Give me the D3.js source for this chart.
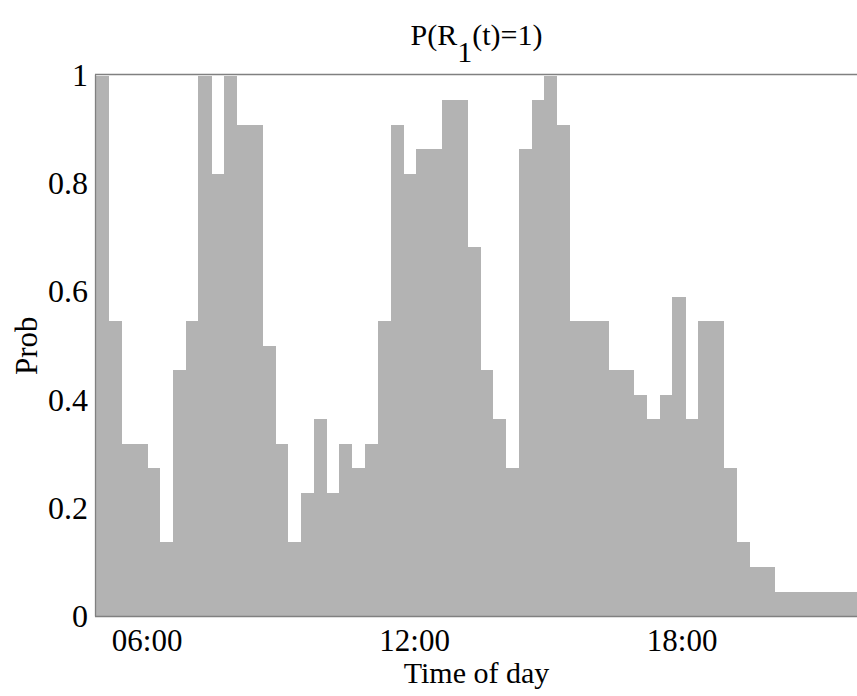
<!DOCTYPE html>
<html>
<head>
<meta charset="utf-8">
<script src="https://cdn.jsdelivr.net/npm/d3@7"></script>
<style>
  html, body { margin: 0; padding: 0; background: #fff; }
  svg { display: block; }
  text { font-family: "Liberation Serif", "Times New Roman", serif; fill: #000; }
</style>
</head>
<body>
<svg id="chart" width="857" height="696"></svg>
<script>
// ---- data ----
const values = [
  1.000, 0.545, 0.318, 0.318, 0.273, 0.136, 0.455, 0.545, 1.000, 0.818,
  1.000, 0.909, 0.909, 0.500, 0.318, 0.136, 0.227, 0.364, 0.227, 0.318,
  0.273, 0.318, 0.545, 0.909, 0.818, 0.864, 0.864, 0.955, 0.955, 0.682,
  0.455, 0.364, 0.273, 0.864, 0.955, 1.000, 0.909, 0.545, 0.545, 0.545,
  0.455, 0.455, 0.409, 0.364, 0.409, 0.591, 0.364, 0.545, 0.545, 0.273,
  0.136, 0.091, 0.091, 0.045, 0.045, 0.045, 0.045, 0.045, 0.045, 0.045
];
const startHour = 4.863;      // time at left edge of first bin
const binHours = 0.28735;     // width of each bin, hours
const endHour = 21.934;       // right edge of visible axis
const xTickHours = [6, 12, 18];
const xTickLabels = ["06:00", "12:00", "18:00"];
const yTicks = [0, 0.2, 0.4, 0.6, 0.8, 1];
const yTickLabels = ["0", "0.2", "0.4", "0.6", "0.8", "1"];
const titleMain = "P(R";
const titleSub = "1";
const titleRest = "(t)=1)";
const xLabel = "Time of day";
const yLabel = "Prob";

// ---- layout ----
const mLeft = 96, mRight = 857, mTop = 75.5, mBottom = 616;
const svg = d3.select("#chart");

const x = d3.scaleLinear().domain([startHour, endHour]).range([mLeft, mRight]);
const y = d3.scaleLinear().domain([0, 1]).range([mBottom, mTop]);

svg.append("defs").append("clipPath").attr("id", "plotclip")
  .append("rect").attr("x", mLeft).attr("y", 0).attr("width", mRight - mLeft).attr("height", mBottom);

// bars
svg.append("g").attr("clip-path", "url(#plotclip)")
  .selectAll("rect").data(values).join("rect")
  .attr("x", (d, i) => x(startHour + i * binHours))
  .attr("width", (d, i) => x(startHour + (i + 1) * binHours) - x(startHour + i * binHours) + 0.3)
  .attr("y", d => y(d))
  .attr("height", d => y(0) - y(d))
  .attr("fill", "#b3b3b3")
  .attr("shape-rendering", "crispEdges");

// frame lines (left, bottom, top)
const lineColor = "#808080";
svg.append("line").attr("x1", mLeft - 0.5).attr("x2", mLeft - 0.5).attr("y1", mTop - 1).attr("y2", mBottom + 0.5)
  .attr("stroke", lineColor).attr("stroke-width", 1.3);
svg.append("line").attr("x1", mLeft - 1).attr("x2", mRight).attr("y1", mBottom + 0.5).attr("y2", mBottom + 0.5)
  .attr("stroke", lineColor).attr("stroke-width", 1.3);
svg.append("line").attr("x1", mLeft - 1).attr("x2", mRight).attr("y1", mTop - 1).attr("y2", mTop - 1)
  .attr("stroke", lineColor).attr("stroke-width", 1.3);

// y axis
const yAxis = d3.axisLeft(y).tickValues(yTicks).tickSize(0).tickPadding(8)
  .tickFormat((d, i) => yTickLabels[i]);
const gy = svg.append("g").attr("transform", `translate(${mLeft},0)`).call(yAxis);
gy.select(".domain").remove();
gy.selectAll("text").style("font-family", '"Liberation Serif", serif').style("font-size", "32px").attr("fill", "#000");

// x axis
const xAxis = d3.axisBottom(x).tickValues(xTickHours).tickSize(0).tickPadding(0)
  .tickFormat((d, i) => xTickLabels[i]);
const gx = svg.append("g").attr("transform", `translate(0,${mBottom})`).call(xAxis);
gx.select(".domain").remove();
gx.selectAll("text").attr("dy", null).attr("y", 35)
  .style("font-family", '"Liberation Serif", serif').style("font-size", "31px").attr("fill", "#000");

// title
const title = svg.append("text").attr("x", (mLeft + mRight) / 2).attr("y", 45)
  .attr("text-anchor", "middle").style("font-size", "30px");
title.append("tspan").text(titleMain);
title.append("tspan").attr("dy", 17).text(titleSub);
title.append("tspan").attr("dy", -17).text(titleRest);

// x label
svg.append("text").attr("x", (mLeft + mRight) / 2).attr("y", 683)
  .attr("text-anchor", "middle").style("font-size", "30px").text(xLabel);

// y label
svg.append("text").attr("transform", `translate(37,${(mTop + mBottom) / 2}) rotate(-90)`)
  .attr("text-anchor", "middle").style("font-size", "31px").text(yLabel);
</script>
</body>
</html>
